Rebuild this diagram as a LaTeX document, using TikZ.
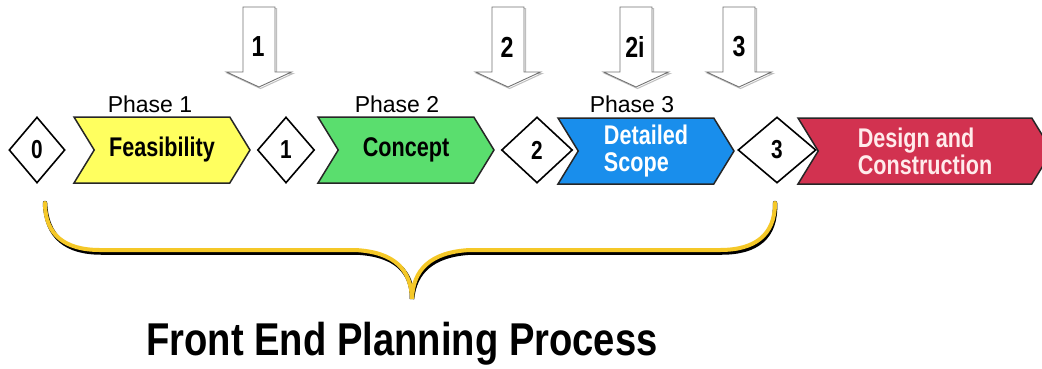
\documentclass[tikz,border=0pt]{standalone}
\usepackage{fontspec}
\setmainfont{Liberation Sans}
\newfontfamily\narrowfont[FakeStretch=0.8]{Liberation Sans}
\newfontfamily\titlefont[FakeStretch=0.83]{Liberation Sans}
\usetikzlibrary{shapes.geometric,shapes.symbols}

\definecolor{feasyellow}{RGB}{255,255,95}
\definecolor{conceptgreen}{RGB}{90,222,110}
\definecolor{scopeblue}{RGB}{25,142,236}
\definecolor{designred}{RGB}{210,50,80}
\definecolor{bracegold}{RGB}{245,200,40}

\tikzset{
	chev/.style={signal, signal to=east, signal from=west,
		signal pointer angle=117, draw=black!85, line width=1.5pt,
		minimum height=66pt, minimum width=176pt, inner sep=0pt,
		font=\narrowfont\fontsize{27}{27}\selectfont\bfseries, align=left},
	gatebox/.style={diamond, draw=black, line width=1.6pt, fill=white,
		minimum height=66pt, inner sep=0pt,
		font=\narrowfont\fontsize{26}{26}\selectfont\bfseries},
	phaselabel/.style={font=\fontsize{23}{23}\selectfont},
	gatelabel/.style={font=\narrowfont\fontsize{29}{29}\selectfont\bfseries},
	gate/.pic={
		\draw[black!25, line width=1pt, shift={(1.5,1.5)}]
			(-16,-40) -- (16,-40) -- (16,25) -- (32.5,25) -- (0,40)
			-- (-32.5,25) -- (-16,25) -- cycle;
		\draw[fill=white, draw=black!55, line width=0.9pt]
			(-16,-40) -- (16,-40) -- (16,25) -- (32.5,25) -- (0,40)
			-- (-32.5,25) -- (-16,25) -- cycle;
	}
}

\begin{document}
\begin{tikzpicture}[x=1pt,y=-1pt]
	\useasboundingbox[fill=white] (0,0) rectangle (1042,368);

	% decision arrows on top
	\pic at (259,47) {gate};
	\node[gatelabel] (g1) at (258,47) {1};
	\pic at (508,47) {gate};
	\node[gatelabel] (g2) at (507,47) {2};
	\pic at (636,47) {gate};
	\node[gatelabel] (g2i) at (635,47) {2i};
	\pic at (739,47) {gate};
	\node[gatelabel] (g3) at (739,47) {3};

	% phases
	\node[chev, fill=feasyellow] (feas) at (162,150) {Feasibility};
	\node[chev, fill=conceptgreen] (concept) at (406,150) {Concept};
	\node[chev, fill=scopeblue, text=white] (scope) at (646,151)
		{Detailed\\Scope};
	\node[chev, fill=designred, text=white!92!red, minimum width=254pt]
		(design) at (925,151) {Design and\\Construction};

	\node[gatebox, minimum width=56pt] (d0) at (37,150) {0};
	\node[gatebox, minimum width=57pt] (d1) at (286,150) {1};
	\node[gatebox, minimum width=71pt] (d2) at (537,150) {2};
	\node[gatebox, minimum width=78pt] (d3) at (777,150) {3};

	\node[phaselabel] (p1) at (150,104) {Phase 1};
	\node[phaselabel] (p2) at (397,104) {Phase 2};
	\node[phaselabel] (p3) at (632,104) {Phase 3};

	% brace
	\coordinate (bl) at (45,203);
	\coordinate (br) at (775,203);
	\coordinate (tip) at (412,299);
	\draw[black, line width=4.5pt, line cap=round, shift={(1.5,2.5)}]
		(bl) .. controls (45,235) and (65,250) .. (100,250) -- (355,250)
		.. controls (395,252) and (411,270) .. (tip)
		.. controls (413,270) and (430,252) .. (470,250) -- (720,250)
		.. controls (755,250) and (775,235) .. (br);
	\draw[bracegold, line width=4pt, line cap=round]
		(bl) .. controls (45,235) and (65,250) .. (100,250) -- (355,250)
		.. controls (395,252) and (411,270) .. (tip)
		.. controls (413,270) and (430,252) .. (470,250) -- (720,250)
		.. controls (755,250) and (775,235) .. (br);

	\node[font=\titlefont\fontsize{46}{46}\selectfont\bfseries,
		anchor=base] (fep) at (402,355) {Front End Planning Process};
\end{tikzpicture}
\end{document}
